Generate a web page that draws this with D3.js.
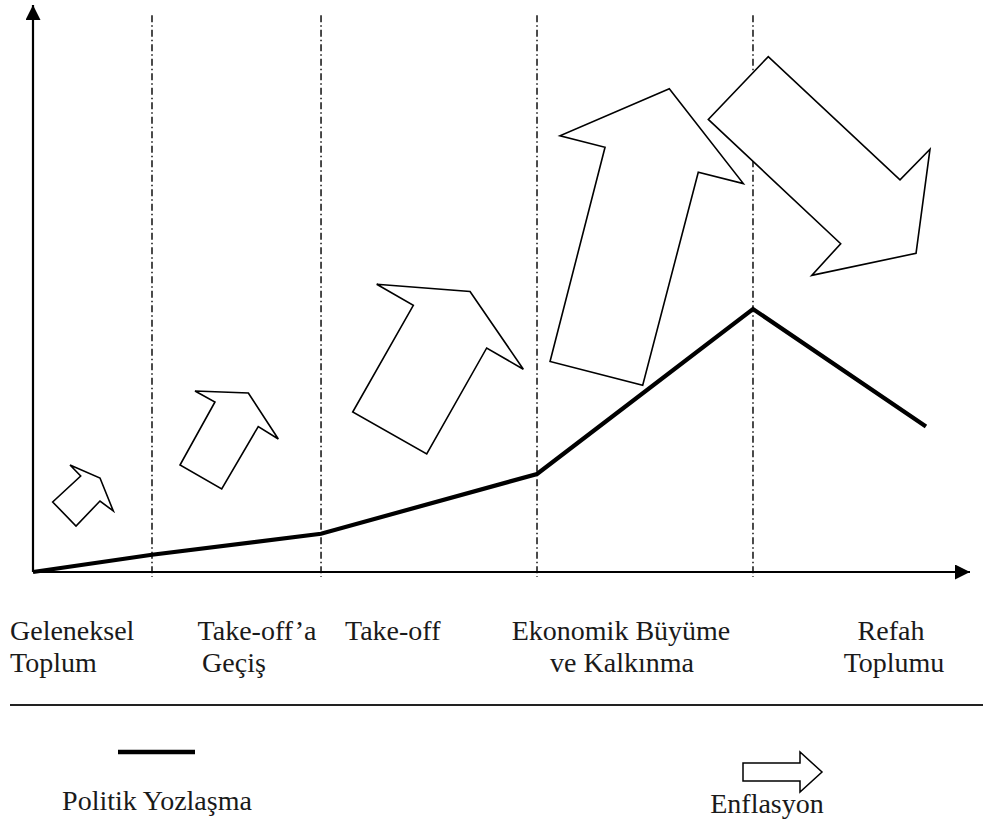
<!DOCTYPE html>
<html>
<head>
<meta charset="utf-8">
<script src="https://cdn.jsdelivr.net/npm/d3@7/dist/d3.min.js"></script>
<style>
  html, body { margin: 0; padding: 0; background: #fff; }
  svg { display: block; }
  text { font-family: "Liberation Serif", "DejaVu Serif", serif; fill: #1a1a1a; }
</style>
</head>
<body>
<div id="chart"></div>
<script>
// ---------------- DATA ----------------
// Stage boundaries along the (unitless) time axis, 0..100
const stageBoundaries = [12.7, 30.74, 53.79, 76.84];

// Stage labels (each entry = lines of text)
const stageLabels = [
  ["Geleneksel", "Toplum"],
  ["Take-off’a", "Geçiş"],
  ["Take-off"],
  ["Ekonomik Büyüme", "ve Kalkınma"],
  ["Refah", "Toplumu"]
];

// Politik Yozlaşma line (x, y)
const corruptionX = [0, 12.7, 30.74, 53.79, 76.84, 95.3];
const corruptionY = [0, 3.05, 6.75, 17.28, 46.38, 25.66];

// Enflasyon block arrows: vertices in chart units (tip, right barb, right neck, tail, tail, left neck, left barb)
const inflationArrow1 = [[7.15,16.58],[8.57,10.76],[7.15,12.52],[4.59,8.11],[2.10,12.35],[5.09,16.93],[3.95,18.87]];
const inflationArrow2 = [[22.98,31.57],[26.18,23.46],[24.04,25.66],[20.14,14.64],[15.69,18.87],[19.42,29.98],[17.29,31.92]];
const inflationArrow3 = [[46.64,49.47],[52.33,35.77],[48.42,39.51],[42.02,20.81],[34.12,28.22],[40.59,47.04],[36.68,50.76]];
const inflationArrow4 = [[67.91,85.22],[75.81,68.50],[71.00,70.51],[65.07,32.95],[55.18,37.13],[61.05,74.90],[56.24,76.93]];
const inflationArrow5 = [[94.24,56.21],[95.73,74.57],[92.53,69.17],[78.47,90.90],[72.07,79.82],[86.20,57.90],[83.11,52.31]];
const inflationArrows = [inflationArrow1, inflationArrow2, inflationArrow3, inflationArrow4, inflationArrow5];

const legendLabels = ["Politik Yozlaşma", "Enflasyon"];

// ---------------- LAYOUT ----------------
const W = 983, H = 825;
const svg = d3.select("#chart").append("svg").attr("width", W).attr("height", H);

const x = d3.scaleLinear().domain([0, 100]).range([33, 970]);
const y = d3.scaleLinear().domain([0, 100]).range([572, 5]);

const defs = svg.append("defs");
defs.append("marker").attr("id", "axhead")
  .attr("viewBox", "0 0 10 10").attr("refX", 10).attr("refY", 5)
  .attr("markerWidth", 17).attr("markerHeight", 15)
  .attr("markerUnits", "userSpaceOnUse")
  .attr("orient", "auto")
  .append("path").attr("d", "M0,0 L10,5 L0,10 Z").attr("fill", "#000");

// Vertical dash-dot stage boundaries
svg.append("g").selectAll("line").data(stageBoundaries).join("line")
  .attr("x1", d => x(d)).attr("x2", d => x(d))
  .attr("y1", y(98.2)).attr("y2", y(-0.9))
  .attr("stroke", "#1f1f1f").attr("stroke-width", 1.6)
  .attr("stroke-dasharray", "7,3,1.5,3");

// Block arrows (white filled, covering the boundary lines)
svg.append("g").selectAll("path").data(inflationArrows).join("path")
  .attr("d", pts => d3.line().x(p => x(p[0])).y(p => y(p[1]))(pts) + "Z")
  .attr("fill", "#fff").attr("stroke", "#000").attr("stroke-width", 1.6)
  .attr("stroke-linejoin", "miter");

// Axes
svg.append("line")
  .attr("x1", x(0)).attr("y1", y(0)).attr("x2", x(0)).attr("y2", y(100))
  .attr("stroke", "#000").attr("stroke-width", 2.2).attr("marker-end", "url(#axhead)");
svg.append("line")
  .attr("x1", x(0)).attr("y1", y(0)).attr("x2", x(100)).attr("y2", y(0))
  .attr("stroke", "#000").attr("stroke-width", 2.2).attr("marker-end", "url(#axhead)");

// Politik Yozlaşma line
const linePts = corruptionX.map((v, i) => [v, corruptionY[i]]);
svg.append("path")
  .attr("d", d3.line().x(p => x(p[0])).y(p => y(p[1]))(linePts))
  .attr("fill", "none").attr("stroke", "#000").attr("stroke-width", 4.2)
  .attr("stroke-linejoin", "miter");

// Stage labels
const labelPos = [
  [{x: 10, a: "start"}, {x: 10, a: "start"}],
  [{x: 257, a: "middle"}, {x: 234, a: "middle"}],
  [{x: 345, a: "start"}],
  [{x: 621, a: "middle"}, {x: 622, a: "middle"}],
  [{x: 891, a: "middle"}, {x: 894, a: "middle"}]
];
const lineY = [640, 672];
const lg = svg.append("g").attr("font-size", 28);
stageLabels.forEach((lines, i) => {
  lines.forEach((t, j) => {
    lg.append("text").attr("x", labelPos[i][j].x).attr("y", lineY[j])
      .attr("text-anchor", labelPos[i][j].a).text(t);
  });
});

// Separator
svg.append("line").attr("x1", 10).attr("x2", 983).attr("y1", 705).attr("y2", 705)
  .attr("stroke", "#222").attr("stroke-width", 2);

// Legend: line
svg.append("line").attr("x1", 118).attr("x2", 195).attr("y1", 752).attr("y2", 752)
  .attr("stroke", "#000").attr("stroke-width", 4.5);
svg.append("text").attr("x", 157).attr("y", 810).attr("text-anchor", "middle")
  .attr("font-size", 28).text(legendLabels[0]);

// Legend: block arrow
const la = d3.path();
la.moveTo(743, 763); la.lineTo(800, 763); la.lineTo(800, 752); la.lineTo(822, 772);
la.lineTo(800, 792); la.lineTo(800, 781); la.lineTo(743, 781); la.closePath();
svg.append("path").attr("d", la.toString()).attr("fill", "#fff")
  .attr("stroke", "#000").attr("stroke-width", 1.5);
svg.append("text").attr("x", 767).attr("y", 813).attr("text-anchor", "middle")
  .attr("font-size", 28).text(legendLabels[1]);
</script>
</body>
</html>
